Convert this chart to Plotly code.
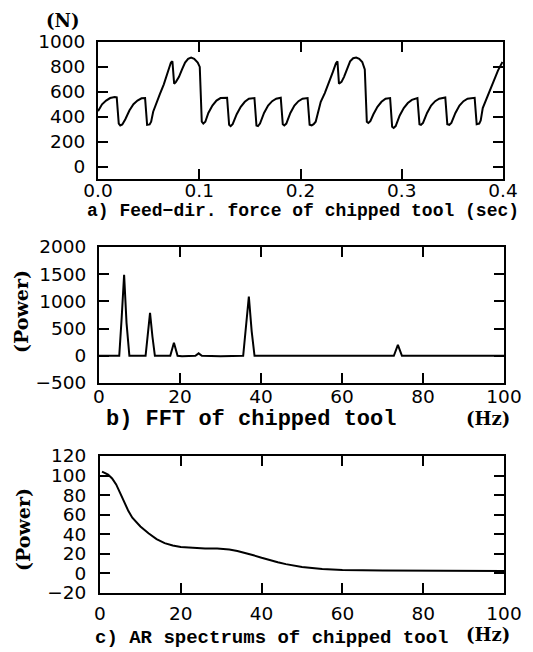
import plotly.graph_objects as go

# ---- data: a) feed-direction force (N) vs time (sec)
force_t = [0.000, 0.004, 0.008, 0.012, 0.0165, 0.0185, 0.0205, 0.022, 0.024, 0.027,
           0.031, 0.035, 0.039, 0.043, 0.0465, 0.0485, 0.051, 0.0525, 0.0545, 0.057,
           0.061, 0.065, 0.069, 0.072, 0.0735, 0.0752, 0.077, 0.080, 0.083, 0.086,
           0.089, 0.092, 0.095, 0.0985, 0.1005, 0.1025, 0.104, 0.106, 0.109, 0.113,
           0.117, 0.121, 0.1275, 0.1295, 0.131, 0.133, 0.137, 0.141, 0.145, 0.149,
           0.1545, 0.1565, 0.158, 0.160, 0.164, 0.168, 0.172, 0.176, 0.1805, 0.1825,
           0.184, 0.186, 0.190, 0.194, 0.198, 0.202, 0.207, 0.209, 0.211, 0.213,
           0.215, 0.2175, 0.220, 0.224, 0.228, 0.232, 0.235, 0.2365, 0.238, 0.2405,
           0.243, 0.246, 0.249, 0.252, 0.255, 0.258, 0.261, 0.2635, 0.2655, 0.267,
           0.269, 0.272, 0.276, 0.280, 0.284, 0.2885, 0.2905, 0.292, 0.294, 0.298,
           0.302, 0.306, 0.310, 0.3155, 0.3175, 0.319, 0.321, 0.325, 0.329, 0.333,
           0.337, 0.343, 0.345, 0.347, 0.349, 0.353, 0.357, 0.361, 0.365, 0.372,
           0.374, 0.3765, 0.378, 0.380, 0.383, 0.387, 0.391, 0.395, 0.3995]
force_n = [445, 500, 530, 550, 558, 555, 345, 330, 338, 380,
           450, 500, 530, 548, 550, 335, 338, 360, 440, 500,
           580, 660, 750, 835, 845, 665, 680, 720, 780, 835,
           865, 875, 865, 835, 800, 360, 345, 360, 430, 490,
           530, 550, 552, 335, 325, 340, 420, 480, 520, 545,
           550, 330, 325, 345, 430, 490, 525, 545, 552, 340,
           330, 345, 430, 490, 525, 545, 550, 335, 330, 340,
           360, 450, 520, 590, 670, 760, 830, 845, 665, 680,
           720, 790, 845, 870, 875, 865, 840, 780, 360, 350,
           365, 420, 480, 520, 545, 550, 320, 310, 325, 410,
           470, 510, 535, 550, 340, 335, 350, 430, 490, 525,
           545, 555, 340, 335, 350, 430, 490, 525, 545, 552,
           340, 345, 370, 470, 530, 610, 690, 770, 840]

# ---- data: b) FFT power vs frequency (Hz)
fft_hz = [0, 5.0, 5.6, 6.2, 6.8, 7.5, 11.5, 12.0, 12.6, 13.2, 13.8, 17.6, 18.5, 19.4,
          20.5, 23.8, 24.6, 25.4, 30, 35.6, 36.3, 37.0, 37.7, 38.4, 45, 60, 72.8,
          73.8, 74.8, 80, 100]
fft_power = [0, 0, 700, 1490, 600, 0, 0, 400, 790, 350, 0, 0, 240, 0,
             -10, 0, 45, 0, -10, 0, 500, 1090, 450, 0, 0, 0, 0,
             200, 0, 0, 0]

# ---- data: c) AR spectrum power vs frequency (Hz)
ar_hz = [0.5, 2, 3, 4, 5, 6, 7, 8, 9, 10, 12, 14, 16, 18, 20, 23, 26, 29, 32, 34,
         36, 38, 40, 42, 44, 46, 48, 50, 55, 60, 70, 80, 90, 100]
ar_power = [104, 101, 97, 91, 82, 72, 64, 57, 52, 48, 41, 35, 31, 28.5, 27, 26, 25.5,
            25.5, 24.5, 23, 21, 18.5, 16, 13.5, 11.5, 9.5, 8, 6.5, 4.5, 3.5, 3, 2.8,
            2.6, 2.5]

# ---- tick labels
force_xticks = [0.0, 0.1, 0.2, 0.3, 0.4]
force_xtext = ["0.0", "0.1", "0.2", "0.3", "0.4"]
force_yticks = [0, 200, 400, 600, 800, 1000]
fft_yticks = [-500, 0, 500, 1000, 1500, 2000]
ar_yticks = [-20, 0, 20, 40, 60, 80, 100, 120]
hz_ticks = [0, 20, 40, 60, 80, 100]

# page is 533x652; the browser body adds an 8px margin, so the figure is
# 8px smaller and every page coordinate is shifted by 8px.
OFF = 8
W, H = 533 - OFF, 652 - OFF
TICKFONT = dict(family="DejaVu Sans", size=18.5, color="black")
LINE = dict(color="black", width=2)

fig = go.Figure()
fig.add_trace(go.Scatter(x=force_t, y=force_n, mode="lines", line=LINE,
                         xaxis="x", yaxis="y", showlegend=False))
fig.add_trace(go.Scatter(x=fft_hz, y=fft_power, mode="lines", line=LINE,
                         xaxis="x2", yaxis="y2", showlegend=False))
fig.add_trace(go.Scatter(x=ar_hz, y=ar_power, mode="lines", line=LINE,
                         xaxis="x3", yaxis="y3", showlegend=False))


def px_x(a, b):
    return [(a - OFF) / W, (b - OFF) / W]


def px_y(top, bottom):
    return [1 - (bottom - OFF) / H, 1 - (top - OFF) / H]


def axis(domain, rng, tickvals, ticktext=None, anchor=None, standoff=0):
    d = dict(domain=domain, range=rng, tickmode="array", tickvals=tickvals,
             showline=True, linecolor="black", linewidth=2, mirror="ticks",
             ticks="inside", ticklen=10, tickwidth=2, tickcolor="black",
             showgrid=False, zeroline=False, tickfont=TICKFONT, automargin=False,
             ticklabelstandoff=standoff, fixedrange=True)
    if ticktext is not None:
        d["ticktext"] = ticktext
    if anchor:
        d["anchor"] = anchor
    return d


fig.update_layout(
    width=W, height=H,
    margin=dict(l=0, r=0, t=0, b=0, autoexpand=False),
    paper_bgcolor="white", plot_bgcolor="white",
    xaxis=axis(px_x(98, 503), [0, 0.4], force_xticks, force_xtext, "y", -6),
    yaxis=axis(px_y(42, 179), [-100, 1000], force_yticks, None, "x", 7),
    xaxis2=axis(px_x(99, 504), [0, 100], hz_ticks, None, "y2", -4),
    yaxis2=axis(px_y(247, 383), [-500, 2000], fft_yticks, None, "x2", 7),
    xaxis3=axis(px_x(100, 504), [0, 100], hz_ticks, None, "y3", 3),
    yaxis3=axis(px_y(456, 593), [-20, 120], ar_yticks, None, "x3", 8),
)

MONO = "Liberation Mono"
SERIF = "DejaVu Serif"


def text(s, x, y, size, family, angle=0, bold=True):
    fig.add_annotation(text=s, x=(x - OFF) / W, y=1 - (y - OFF) / H,
                       xref="paper", yref="paper",
                       showarrow=False, xanchor="center", yanchor="middle",
                       textangle=angle,
                       font=dict(family=family, size=size, color="black",
                                 weight="bold" if bold else "normal"))


text("(N)", 63, 20, 18, SERIF)
text("a) Feed\u2212dir. force of chipped tool (sec)", 303, 211, 18, MONO)
text("(Power)", 21, 312, 19, SERIF, -90)
text("b) FFT of chipped tool", 251, 419, 22, MONO)
text("(Hz)", 488, 418, 18, SERIF)
text("(Power)", 23, 530, 19, SERIF, -90)
text("c) AR spectrums of chipped tool", 271, 638, 19, MONO)
text("(Hz)", 488, 634, 18, SERIF)

fig.write_html("out.html")
